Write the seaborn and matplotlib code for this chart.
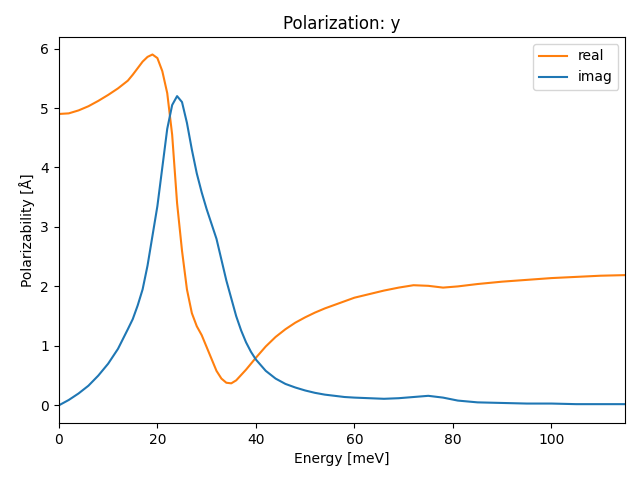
import matplotlib
matplotlib.use("Agg")
import matplotlib.pyplot as plt
import seaborn as sns
import pandas as pd

energy = [0, 2, 4, 6, 8, 10, 12,
          14, 15, 16, 17, 18, 19, 20, 21, 22, 23, 24, 25, 26, 27, 28, 29, 30,
          31, 32, 33, 34, 35, 36, 37, 38, 39, 40,
          42, 44, 46, 48, 50, 52, 54, 56, 58, 60,
          63, 66, 69, 72, 75, 78, 81,
          85, 90, 95, 100, 105, 110, 115]
real = [4.90, 4.91, 4.96, 5.03, 5.12, 5.22, 5.33,
        5.46, 5.56, 5.67, 5.78, 5.86, 5.90, 5.84, 5.62, 5.25, 4.55, 3.40, 2.60, 1.95,
        1.55, 1.33, 1.18, 0.98,
        0.78, 0.58, 0.45, 0.38, 0.37, 0.42, 0.51, 0.60, 0.70, 0.80,
        0.99, 1.15, 1.28, 1.39, 1.48, 1.56, 1.63, 1.69, 1.75, 1.81,
        1.87, 1.93, 1.98, 2.02, 2.01, 1.98, 2.00,
        2.04, 2.08, 2.11, 2.14, 2.16, 2.18, 2.19]
imag = [0.00, 0.09, 0.20, 0.33, 0.50, 0.70, 0.95,
        1.28, 1.45, 1.68, 1.95, 2.35, 2.85, 3.35, 4.00, 4.65, 5.05, 5.20, 5.10, 4.75,
        4.30, 3.90, 3.58, 3.30,
        3.05, 2.80, 2.45, 2.10, 1.80, 1.50, 1.26, 1.06, 0.90, 0.77,
        0.58, 0.45, 0.36, 0.30, 0.25, 0.21, 0.18, 0.16, 0.14, 0.13,
        0.12, 0.11, 0.12, 0.14, 0.16, 0.13, 0.08,
        0.05, 0.04, 0.03, 0.03, 0.02, 0.02, 0.02]

df = pd.DataFrame({"energy": energy, "real": real, "imag": imag})

fig, ax = plt.subplots(figsize=(6.4, 4.8), dpi=100)
sns.lineplot(data=df, x="energy", y="real", ax=ax, color="#ff7f0e", label="real")
sns.lineplot(data=df, x="energy", y="imag", ax=ax, color="#1f77b4", label="imag")
ax.set_xlim(min(energy), max(energy))
ax.set_title("Polarization: y")
ax.set_xlabel("Energy [meV]")
ax.set_ylabel("Polarizability [Å]")
ax.legend(loc="upper right")
fig.subplots_adjust(left=0.092, right=0.977, top=0.923, bottom=0.119)
fig.savefig("out.png", dpi=100)
